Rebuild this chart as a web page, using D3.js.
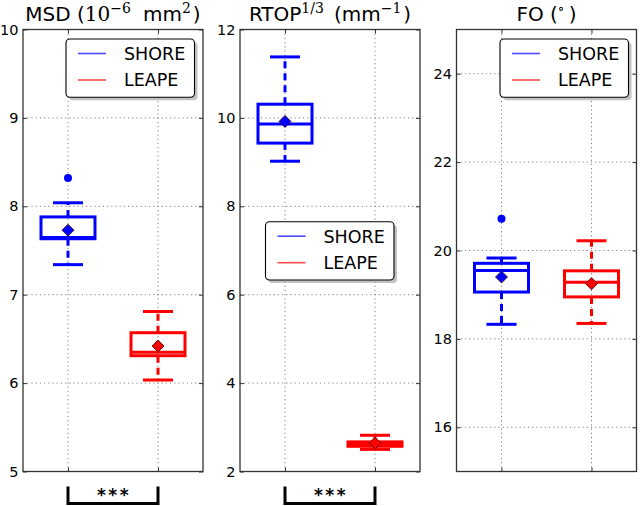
<!DOCTYPE html>
<html><head><meta charset="utf-8">
<script src="https://cdn.jsdelivr.net/npm/d3@7"></script>
<style>
html,body{margin:0;padding:0;background:#fff;}
svg{display:block;font-family:"DejaVu Sans",sans-serif;}
</style></head>
<body>
<svg id="chart" width="640" height="506"></svg>
<script>
// ---- data ----
const groups = ["SHORE", "LEAPE"];
const groupColors = ["#0000ff", "#ff0000"];
// box stats: [lower whisker, Q1, median, Q3, upper whisker]
const msdShore = [7.34, 7.633, 7.648, 7.88, 8.04];
const msdLeape = [6.035, 6.31, 6.35, 6.57, 6.81];
const msdMeans = [7.73, 6.42];
const msdFliers = [[8.32], []];
const rtopShore = [9.02, 9.43, 9.86, 10.31, 11.38];
const rtopLeape = [2.50, 2.57, 2.62, 2.67, 2.82];
const rtopMeans = [9.92, 2.64];
const rtopFliers = [[], []];
const foShore = [18.33, 19.06, 19.55, 19.71, 19.83];
const foLeape = [18.35, 18.95, 19.28, 19.54, 20.22];
const foMeans = [19.40, 19.25];
const foFliers = [[20.72], []];
const msdTicks = [5, 6, 7, 8, 9, 10];
const rtopTicks = [2, 4, 6, 8, 10, 12];
const foTicks = [16, 18, 20, 22, 24];
const msdDomain = [5, 10];
const rtopDomain = [2, 12];
const foDomain = [15, 25];
const sigLabel = "***";

// ---- layout ----
const svg = d3.select("#chart");
const plotTop = 29.5, plotBottom = 471.5;
const panels = [
  {x0: 23, x1: 203, domain: msdDomain, ticks: msdTicks, stats: [msdShore, msdLeape], means: msdMeans, fliers: msdFliers,
   title: [["MSD (", 0, 0], ["10", 1, 0], ["\u22126", 1, 1], ["mm", 0, 0, 12], ["2", 1, 1], [")", 0, 0, 2]],
   legend: {x: 66, y: 39}, sig: true},
  {x0: 240, x1: 420, domain: rtopDomain, ticks: rtopTicks, stats: [rtopShore, rtopLeape], means: rtopMeans, fliers: rtopFliers,
   title: [["RTOP", 0, 0], ["1/3", 1, 1], ["(mm", 0, 0, 10], ["\u22121", 1, 1], [")", 0, 0, 2]],
   legend: {x: 265.5, y: 221.7}, sig: true},
  {x0: 456.5, x1: 636.5, domain: foDomain, ticks: foTicks, stats: [foShore, foLeape], means: foMeans, fliers: foFliers,
   title: [["FO (", 0, 0], ["\u2218", 1, 1], [")", 0, 0, 4]],
   legend: {x: 500, y: 39}, sig: false}
];

panels.forEach(p => {
  const g = svg.append("g");
  const x = d3.scaleLinear().domain([0.5, 2.5]).range([p.x0, p.x1]);
  const y = d3.scaleLinear().domain(p.domain).range([plotBottom, plotTop]);

  // grid
  g.selectAll(".hg").data(p.ticks).join("line")
    .attr("x1", p.x0).attr("x2", p.x1).attr("y1", d => y(d)).attr("y2", d => y(d))
    .attr("stroke", "#808080").attr("stroke-width", 1).attr("stroke-dasharray", "1.2,3");
  g.selectAll(".vg").data([1, 2]).join("line")
    .attr("x1", d => x(d)).attr("x2", d => x(d)).attr("y1", plotTop).attr("y2", plotBottom)
    .attr("stroke", "#808080").attr("stroke-width", 1).attr("stroke-dasharray", "1.2,3");

  // axes
  const la = g.append("g").attr("transform", `translate(${p.x0},0)`)
    .call(d3.axisLeft(y).tickValues(p.ticks).tickSize(-4).tickPadding(4.5).tickFormat(d3.format("d")));
  const ra = g.append("g").attr("transform", `translate(${p.x1},0)`)
    .call(d3.axisRight(y).tickValues(p.ticks).tickSize(-4).tickFormat(""));
  const ta = g.append("g").attr("transform", `translate(0,${plotTop})`)
    .call(d3.axisTop(x).tickValues([1, 2]).tickSize(-4).tickFormat(""));
  const ba = g.append("g").attr("transform", `translate(0,${plotBottom})`)
    .call(d3.axisBottom(x).tickValues([1, 2]).tickSize(-4).tickFormat(""));
  [la, ra, ta, ba].forEach(a => {
    a.select(".domain").remove();
    a.selectAll("line").attr("stroke", "#333").attr("stroke-width", 1);
    a.selectAll("text").attr("font-size", 14.5).attr("fill", "#000")
      .attr("font-family", "DejaVu Sans");
  });
  g.append("rect").attr("x", p.x0).attr("y", plotTop).attr("width", p.x1 - p.x0).attr("height", plotBottom - plotTop)
    .attr("fill", "none").attr("stroke", "#333").attr("stroke-width", 1.3);

  // boxes
  p.stats.forEach((s, i) => {
    const pos = i + 1, c = groupColors[i];
    const bg = g.append("g").attr("stroke", c).attr("stroke-width", 3).attr("fill", "none");
    bg.append("line").attr("x1", x(pos)).attr("x2", x(pos)).attr("y1", y(s[1])).attr("y2", y(s[0]))
      .attr("stroke-dasharray", "7,5");
    bg.append("line").attr("x1", x(pos)).attr("x2", x(pos)).attr("y1", y(s[3])).attr("y2", y(s[4]))
      .attr("stroke-dasharray", "7,5");
    [s[0], s[4]].forEach(v => bg.append("line")
      .attr("x1", x(pos - 0.167)).attr("x2", x(pos + 0.167)).attr("y1", y(v)).attr("y2", y(v)));
    bg.append("rect").attr("x", x(pos - 0.3)).attr("width", x(pos + 0.3) - x(pos - 0.3))
      .attr("y", y(s[3])).attr("height", y(s[1]) - y(s[3]));
    bg.append("line").attr("x1", x(pos - 0.3)).attr("x2", x(pos + 0.3)).attr("y1", y(s[2])).attr("y2", y(s[2]));
    g.selectAll(null).data(p.fliers[i]).join("circle")
      .attr("cx", x(pos)).attr("cy", d => y(d)).attr("r", 4).attr("fill", c);
    const mx = x(pos), my = y(p.means[i]), r = 6;
    g.append("path").attr("d", `M${mx},${my - r}L${mx + r},${my}L${mx},${my + r}L${mx - r},${my}Z`)
      .attr("fill", c).attr("stroke", "#400").attr("stroke-width", 0.8);
  });

  // title
  const cx = (p.x0 + p.x1) / 2;
  const t = g.append("text").attr("x", cx).attr("y", 20.5).attr("text-anchor", "middle")
    .attr("font-size", 20).attr("fill", "#000");
  let raised = false;
  p.title.forEach(([txt, serif, sup, dx]) => {
    const ts = t.append("tspan").text(txt)
      .attr("font-family", serif ? "DejaVu Serif" : "DejaVu Sans");
    let dy = 0;
    if (sup && !raised) { dy = -8; raised = true; }
    else if (!sup && raised) { dy = 8; raised = false; }
    if (dy) ts.attr("dy", dy);
    if (sup) ts.attr("font-size", 14);
    if (dx) ts.attr("dx", dx);
  });

  // legend
  const L = p.legend, lw = 128.5, lh = 58.3;
  const lg = g.append("g");
  lg.append("rect").attr("x", L.x + 3).attr("y", L.y + 3).attr("width", lw).attr("height", lh)
    .attr("rx", 4).attr("fill", "#9a9a9a").attr("opacity", 0.6);
  lg.append("rect").attr("x", L.x).attr("y", L.y).attr("width", lw).attr("height", lh)
    .attr("rx", 4).attr("fill", "#fff").attr("stroke", "#000").attr("stroke-width", 1.1);
  groups.forEach((name, i) => {
    const ly = L.y + 14.5 + i * 26.5;
    lg.append("line").attr("x1", L.x + 12).attr("x2", L.x + 40).attr("y1", ly).attr("y2", ly)
      .attr("stroke", groupColors[i]).attr("stroke-width", 1.6).attr("opacity", 0.7);
    lg.append("text").attr("x", L.x + 58).attr("y", ly + 6.3).text(name)
      .attr("font-size", 17.5).attr("fill", "#000");
  });

  // significance bracket
  if (p.sig) {
    const xa = x(1), xb = x(2);
    g.append("path").attr("d", `M${xa},486.5V503.5H${xb}V486.5`)
      .attr("fill", "none").attr("stroke", "#000").attr("stroke-width", 3);
    g.append("text").attr("x", (xa + xb) / 2 + 1).attr("y", 501).attr("text-anchor", "middle")
      .attr("font-size", 17).attr("font-weight", "bold").attr("letter-spacing", 2.5)
      .attr("fill", "#000").text(sigLabel);
  }
});
</script>
</body></html>
